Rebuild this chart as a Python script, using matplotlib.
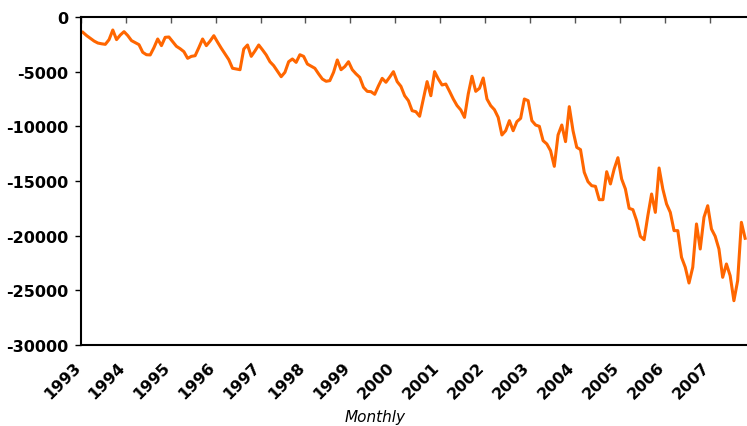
import numpy as np
import matplotlib
matplotlib.use('Agg')
import matplotlib.pyplot as plt
import matplotlib.transforms as mtransforms

# monthly series, Jan 1993 .. Oct 2007
monthly_values = [
    -1400, -1700, -1950, -2200, -2380, -2450, -2500, -2070, -1190, -2070, -1650, -1340,
    -1700, -2160, -2350, -2530, -3230, -3450, -3470, -2800, -2010, -2620, -1860, -1830,
    -2250, -2680, -2900, -3170, -3780, -3600, -3540, -2800, -2010, -2620, -2200, -1710,
    -2300, -2860, -3380, -3900, -4690, -4750, -4820, -2930, -2560, -3600, -3100, -2560,
    -3000, -3470, -4090, -4450, -4950, -5460, -5060, -4090, -3840, -4150, -3450, -3600,
    -4300, -4500, -4690, -5200, -5670, -5880, -5820, -5060, -3930, -4820, -4540, -4090,
    -4820, -5200, -5520, -6430, -6800, -6830, -7070, -6300, -5610, -5970, -5500, -5000,
    -5910, -6340, -7200, -7650, -8570, -8660, -9080, -7500, -5910, -7200, -5000, -5670,
    -6220, -6130, -6800, -7500, -8100, -8500, -9180, -7040, -5420, -6800, -6520, -5580,
    -7500, -8110, -8480, -9180, -10790, -10400, -9480, -10400, -9570, -9270, -7500, -7650,
    -9480, -9880, -10000, -11310, -11610, -12230, -13660, -10790, -9880, -11400, -8200, -10400,
    -11920, -12130, -14200, -15060, -15430, -15490, -16710, -16710, -14150, -15270, -13900, -12870,
    -14820, -15730, -17500, -17620, -18630, -20060, -20370, -18170, -16190, -17870, -13810, -15730,
    -17100, -17870, -19540, -19540, -21980, -22890, -24330, -22890, -18930, -21220, -18320, -17260,
    -19390, -20060, -21220, -23810, -22590, -23660, -25950, -24120, -18780, -20240,
]
year_labels = [str(y) for y in range(1993, 2008)]
y_ticks = [0, -5000, -10000, -15000, -20000, -25000, -30000]

start_year = 1993
n = len(monthly_values)
x = start_year + (np.arange(n) + 0.5) / 12.0

fig = plt.figure(figsize=(7.47, 4.27), dpi=100)
ax = fig.add_axes([81 / 747, 1 - 346 / 427, 1 - 81 / 747, (346 - 18) / 427])

ax.plot(x, monthly_values, color='#FF6600', linewidth=2.2, solid_joinstyle='round')

ax.set_xlim(start_year, start_year + n / 12.0)
ax.set_ylim(-30000, 0)

ax.set_yticks(y_ticks)
ax.set_yticklabels([str(v) for v in y_ticks], fontsize=11.5, fontweight='bold')
ax.tick_params(axis='y', direction='out', length=4, width=1, pad=5)

ax.set_xticks(range(1993, 2008))
ax.set_xticklabels(year_labels, fontsize=11.5, fontweight='bold',
                   rotation=45, ha='right', va='center', rotation_mode='anchor')
ax.tick_params(axis='x', which='both', bottom=False, top=True, labelbottom=True,
               labeltop=False, direction='in', length=4, width=1, color='#555555', pad=14)

# nudge the slanted year labels a little to the left
shift = mtransforms.ScaledTranslation(-3 / 100, 0, fig.dpi_scale_trans)
for lbl in ax.get_xticklabels():
    lbl.set_transform(lbl.get_transform() + shift)

for side in ['left', 'bottom', 'top']:
    ax.spines[side].set_linewidth(1.5)
    ax.spines[side].set_color('black')
ax.spines['right'].set_visible(False)

ax.set_xlabel('Monthly', fontsize=11, fontstyle='italic')
ax.xaxis.set_label_coords(0.441, -0.195)

fig.savefig('out.png', dpi=100)
